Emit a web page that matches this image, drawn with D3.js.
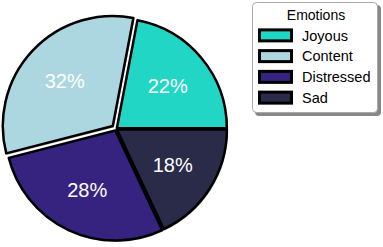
<!DOCTYPE html>
<html lang="en">
<head>
    <meta charset="UTF-8">
    <title>Emotions</title>
    <script src="https://d3js.org/d3.v7.min.js"></script>
    <style>
        body { margin: 0; background: #fff; }
        svg { display: block; font-family: "Liberation Sans", Arial, Helvetica, sans-serif; }
    </style>
</head>
<body>
    <svg width="383" height="247"></svg>

    <script>
        const emotions = ["Joyous", "Content", "Distressed", "Sad"];
        const shares = [22, 32, 28, 18];
        const explode = [0.01, 0.04, 0.015, 0.01];
        const colors = ["#22d6c6", "#acd6e0", "#35237f", "#292b48"];

        const dataset = emotions.map((e, i) => ({ name: e, value: shares[i], explode: explode[i] }));

        const cx = 116, cy = 129, radius = 110;

        const svg = d3.select("svg");

        // counter-clockwise from 3 o'clock
        const pie = d3.pie()
            .sort(null)
            .value(d => d.value)
            .startAngle(Math.PI / 2)
            .endAngle(Math.PI / 2 - 2 * Math.PI);

        const arc = d3.arc().innerRadius(0).outerRadius(radius);
        const labelArc = d3.arc().innerRadius(radius * 0.6).outerRadius(radius * 0.6);

        const color = d3.scaleOrdinal().domain(emotions).range(colors);

        const arcs = pie(dataset);

        const slices = svg.append("g")
            .attr("transform", `translate(${cx},${cy})`)
            .selectAll("g")
            .data(arcs)
            .enter()
            .append("g")
            .attr("transform", d => {
                const mid = (d.startAngle + d.endAngle) / 2;
                const off = d.data.explode * radius;
                return `translate(${Math.sin(mid) * off},${-Math.cos(mid) * off})`;
            });

        // shadow
        slices.append("path")
            .attr("d", arc)
            .attr("transform", "translate(1,1.5)")
            .attr("fill", "#777")
            .attr("opacity", 0.6);

        slices.append("path")
            .attr("d", arc)
            .attr("fill", d => color(d.data.name))
            .attr("stroke", "#000")
            .attr("stroke-width", 2.5)
            .attr("stroke-linejoin", "round");

        slices.append("text")
            .attr("transform", d => `translate(${labelArc.centroid(d)})`)
            .attr("text-anchor", "middle")
            .attr("dy", "0.36em")
            .attr("fill", "#fff")
            .attr("font-size", 20)
            .text(d => d.data.value + "%");

        // legend
        const legend = svg.append("g").attr("transform", "translate(252,2)");

        legend.append("rect")
            .attr("x", 3).attr("y", 3)
            .attr("width", 126).attr("height", 111)
            .attr("rx", 4)
            .attr("fill", "#888");

        legend.append("rect")
            .attr("x", 0.5).attr("y", 0.5)
            .attr("width", 125).attr("height", 110)
            .attr("rx", 4)
            .attr("fill", "#fff")
            .attr("stroke", "#aaa");

        legend.append("text")
            .attr("x", 64)
            .attr("y", 18)
            .attr("text-anchor", "middle")
            .attr("font-size", 14)
            .attr("fill", "#000")
            .text("Emotions");

        const rowY = d3.scaleBand().domain(emotions).range([23, 106]);

        const rows = legend.selectAll(".row")
            .data(emotions)
            .enter()
            .append("g")
            .attr("class", "row")
            .attr("transform", d => `translate(0,${rowY(d) + rowY.bandwidth() / 2})`);

        rows.append("rect")
            .attr("x", 7.5)
            .attr("y", -5.5)
            .attr("width", 32)
            .attr("height", 11)
            .attr("fill", d => color(d))
            .attr("stroke", "#000")
            .attr("stroke-width", 3);

        rows.append("text")
            .attr("x", 50)
            .attr("dy", "0.36em")
            .attr("font-size", 14.5)
            .attr("fill", "#000")
            .text(d => d);
    </script>
</body>
</html>
